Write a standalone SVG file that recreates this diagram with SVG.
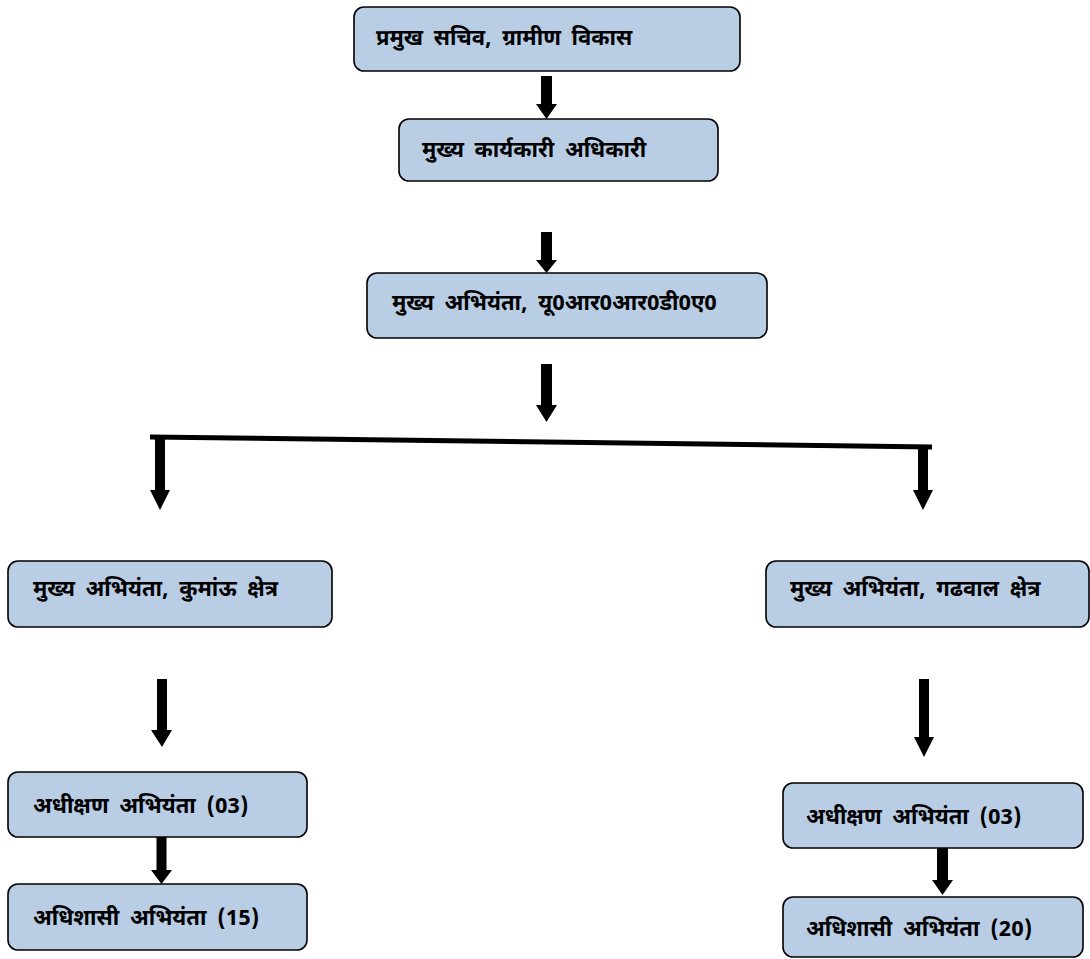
<svg xmlns="http://www.w3.org/2000/svg" width="1090" height="959" viewBox="0 0 1090 959">
<style>
.box{fill:#B9CDE5;stroke:#000;stroke-width:1.6}
.lbl{font-family:"Noto Sans Devanagari","Noto Sans","Liberation Sans",sans-serif;font-size:22px;font-weight:bold;fill:#000;word-spacing:5px}
.arr{fill:#000;stroke:none}
</style>
<rect width="1090" height="959" fill="#fff"/>
<g id="connectors">
<polygon class="arr" points="541,76 552,76 552,104 557,104 546.5,119 536,104 541,104"/>
<polygon class="arr" points="541,232 552,232 552,260 557,260 546.5,273 536,260 541,260"/>
<polygon class="arr" points="541,364 552,364 552,405 557,405 546.5,422 536,405 541,405"/>
<line x1="150" y1="437" x2="932" y2="447" stroke="#000" stroke-width="5"/>
<polygon class="arr" points="155,437 165,437 165,490 170,490 160,510 150,490 155,490"/>
<polygon class="arr" points="918,447 928,447 928,490 933,490 923,510 913,490 918,490"/>
<polygon class="arr" points="157,679 167,679 167,730 172,730 162,747 151,730 157,730"/>
<polygon class="arr" points="156.5,837 166.5,837 166.5,870 172,870 161.5,884 151,870 156.5,870"/>
<polygon class="arr" points="919,679 929,679 929,737 934,737 924,757 914,737 919,737"/>
<polygon class="arr" points="937,848 948,848 948,880 953,880 942.5,895 932,880 937,880"/>
</g>
<g id="n1"><rect class="box" x="354" y="7" width="386" height="64" rx="10"/><text class="lbl" x="376" y="45">प्रमुख सचिव, ग्रामीण विकास</text></g>
<g id="n2"><rect class="box" x="399" y="119" width="319" height="62" rx="10"/><text class="lbl" x="422" y="157">मुख्य कार्यकारी अधिकारी</text></g>
<g id="n3"><rect class="box" x="367" y="273" width="400" height="65" rx="10"/><text class="lbl" x="392" y="310">मुख्य अभियंता, यू0आर0आर0डी0ए0</text></g>
<g id="n4"><rect class="box" x="8" y="561" width="324" height="66" rx="10"/><text class="lbl" x="33" y="596">मुख्य अभियंता, कुमांऊ क्षेत्र</text></g>
<g id="n5"><rect class="box" x="8" y="772" width="299" height="65" rx="10"/><text class="lbl" x="33" y="813">अधीक्षण अभियंता (03)</text></g>
<g id="n6"><rect class="box" x="8" y="884" width="299" height="66" rx="10"/><text class="lbl" x="33" y="925">अधिशासी अभियंता (15)</text></g>
<g id="n7"><rect class="box" x="766" y="561" width="323" height="66" rx="10"/><text class="lbl" x="790" y="596">मुख्य अभियंता, गढवाल क्षेत्र</text></g>
<g id="n8"><rect class="box" x="783" y="783" width="300" height="65" rx="10"/><text class="lbl" x="806" y="824">अधीक्षण अभियंता (03)</text></g>
<g id="n9"><rect class="box" x="783" y="897" width="300" height="60" rx="10"/><text class="lbl" x="806" y="936">अधिशासी अभियंता (20)</text></g>
</svg>
